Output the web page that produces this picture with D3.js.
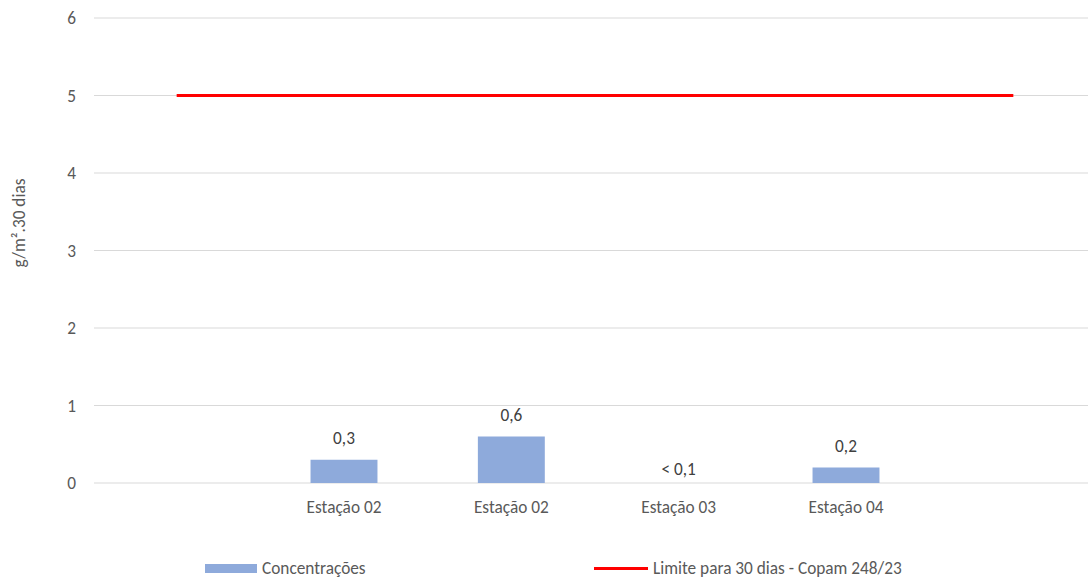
<!DOCTYPE html>
<html><head><meta charset="utf-8">
<script src="https://cdn.jsdelivr.net/npm/d3@7"></script>
<style>
body{margin:0;background:#fff;}
text{font-family:Carlito,Lato,"Open Sans",sans-serif;}
</style></head>
<body><svg id="c" width="1088" height="578"></svg>
<script>
const categories = ["", "Estação 02", "Estação 02", "Estação 03", "Estação 04", ""];
const concentracoes = [null, 0.3, 0.6, 0, 0.2, null];
const valueLabels = ["", "0,3", "0,6", "< 0,1", "0,2", ""];
const limite = [5, 5, 5, 5, 5, 5];
const yTicks = [0, 1, 2, 3, 4, 5, 6];
const seriesNames = ["Concentrações", "Limite para 30 dias - Copam 248/23"];

const svg = d3.select("#c");
const fs = 17.3;
const x = d3.scaleBand().domain(d3.range(categories.length)).range([93, 1097]).padding(0);
const y = d3.scaleLinear().domain([0, 6]).range([483, 18]);
const bw = x.bandwidth() * 0.4;
const cx = i => x(i) + x.bandwidth() / 2;

svg.append("g").selectAll("line").data(yTicks).join("line")
  .attr("x1", 94).attr("x2", 1088)
  .attr("y1", d => y(d)).attr("y2", d => y(d))
  .attr("stroke", "#d9d9d9").attr("stroke-width", 1);

svg.append("g").selectAll("text").data(yTicks).join("text")
  .attr("x", 76).attr("y", d => y(d)).attr("dy", "0.35em")
  .attr("text-anchor", "end").attr("fill", "#595959").attr("font-size", fs)
  .text(d => d);

svg.append("text").attr("transform", "translate(25,223) rotate(-90)")
  .attr("text-anchor", "middle").attr("fill", "#595959").attr("font-size", fs)
  .text("g/m².30 dias");

const barData = concentracoes.map((v, i) => ({v, i})).filter(d => d.v !== null);
svg.append("g").selectAll("rect").data(barData).join("rect")
  .attr("x", d => cx(d.i) - bw / 2).attr("width", bw)
  .attr("y", d => y(d.v)).attr("height", d => y(0) - y(d.v))
  .attr("fill", "#8eaadb");

svg.append("g").selectAll("text").data(barData).join("text")
  .attr("x", d => cx(d.i)).attr("y", d => d.v > 0 ? y(d.v) - 16 : y(0) - 8)
  .attr("text-anchor", "middle").attr("fill", "#404040").attr("font-size", fs)
  .text(d => valueLabels[d.i]);

svg.append("g").selectAll("text").data(categories.map((c, i) => ({c, i}))).join("text")
  .attr("x", d => cx(d.i)).attr("y", 513)
  .attr("text-anchor", "middle").attr("fill", "#595959").attr("font-size", fs)
  .text(d => d.c);

const line = d3.line().x((d, i) => cx(i)).y(d => y(d));
svg.append("path").datum(limite).attr("d", line)
  .attr("fill", "none").attr("stroke", "#ff0000").attr("stroke-width", 3);

svg.append("rect").attr("x", 205).attr("y", 564).attr("width", 52).attr("height", 9).attr("fill", "#8eaadb");
svg.append("text").attr("x", 262).attr("y", 574).attr("fill", "#595959").attr("font-size", fs).text(seriesNames[0]);
svg.append("line").attr("x1", 594).attr("x2", 648).attr("y1", 568.5).attr("y2", 568.5)
  .attr("stroke", "#ff0000").attr("stroke-width", 3);
svg.append("text").attr("x", 653).attr("y", 574).attr("fill", "#595959").attr("font-size", fs).text(seriesNames[1]);
</script></body></html>
